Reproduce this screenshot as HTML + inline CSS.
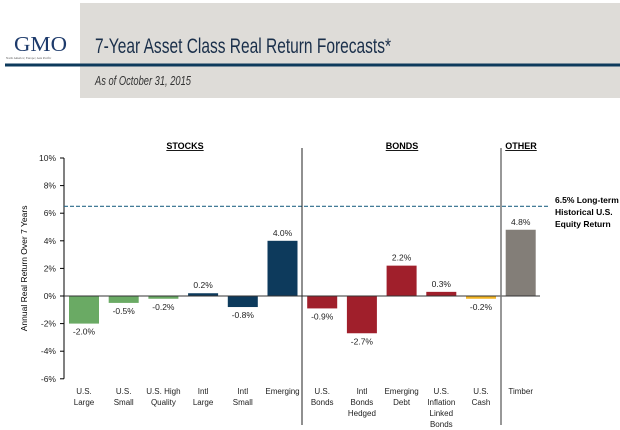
<!DOCTYPE html>
<html><head><meta charset="utf-8"><style>
body{margin:0;width:620px;height:430px;background:#fff;overflow:hidden;font-family:"Liberation Sans",sans-serif}
svg{display:block}
</style></head><body>
<svg width="620" height="430" viewBox="0 0 620 430">
<rect x="80" y="3" width="540" height="95" fill="#dedcd8"/>
<rect x="5" y="63.5" width="615" height="3" fill="#0d3a5c"/>
<text x="14" y="51" font-family="Liberation Serif,serif" font-size="21" fill="#1d3a6b" textLength="53" lengthAdjust="spacingAndGlyphs">GMO</text>
<text x="6" y="59" font-family="Liberation Serif,serif" font-size="3" fill="#555">North America | Europe | Asia Pacific</text>
<text x="95" y="53" font-size="21" fill="#1a2f4a" textLength="296" lengthAdjust="spacingAndGlyphs">7-Year Asset Class Real Return Forecasts*</text>
<text x="95" y="85" font-size="13" font-style="italic" fill="#333" textLength="96" lengthAdjust="spacingAndGlyphs">As of  October 31, 2015</text>
<g id="chart"></g>
</svg>
<script>
const categories=[["U.S.","Large"],["U.S.","Small"],["U.S. High","Quality"],["Intl","Large"],["Intl","Small"],["Emerging"],["U.S.","Bonds"],["Intl","Bonds","Hedged"],["Emerging","Debt"],["U.S.","Inflation","Linked","Bonds"],["U.S.","Cash"],["Timber"]];
const values=[-2.0,-0.5,-0.2,0.2,-0.8,4.0,-0.9,-2.7,2.2,0.3,-0.2,4.8];
const valueLabels=["-2.0%","-0.5%","-0.2%","0.2%","-0.8%","4.0%","-0.9%","-2.7%","2.2%","0.3%","-0.2%","4.8%"];
const colors=["#6aaa64","#6aaa64","#6aaa64","#0d3a5c","#0d3a5c","#0d3a5c","#a01f2b","#a01f2b","#a01f2b","#a01f2b","#f2b424","#837e78"];
const yTicks=[10,8,6,4,2,0,-2,-4,-6];
const benchmark=6.5;
const NS="http://www.w3.org/2000/svg";
const g=document.getElementById('chart');
const y=v=>296-v*13.8;
const x=i=>84+i*39.7;
function mk(t,a,txt){const e=document.createElementNS(NS,t);for(const k in a)e.setAttribute(k,a[k]);if(txt!=null)e.textContent=txt;g.appendChild(e);return e;}
let ax=mk('line',{x1:64,y1:y(10),x2:64,y2:y(-6),stroke:'#000','stroke-width':1});


yTicks.forEach(t=>{
 let tk=mk('line',{x1:60,y1:y(t),x2:64,y2:y(t),stroke:'#000'});
 
 
 let l=mk('text',{x:56,y:y(t)+3,'font-size':8.5,'text-anchor':'end',fill:'#222'},t+'%');
 
 
});
let yt=mk('text',{transform:'translate(27,'+y(2)+') rotate(-90)','font-size':8.5,'text-anchor':'middle',fill:'#000'},'Annual Real Return Over 7 Years');


values.forEach((v,i)=>{
 const cx=x(i);
 let b=mk('rect',{x:cx-15,y:Math.min(y(v),y(0)),width:30,height:Math.abs(y(v)-y(0)),fill:colors[i]});
 
 
 let l=mk('text',{x:cx,y:v>=0?y(v)-5:y(v)+11,'font-size':8.5,'text-anchor':'middle',fill:'#222'},valueLabels[i]);
 
 
 categories[i].forEach((s,j)=>{
  let c=mk('text',{x:cx,y:394+j*11,'font-size':8,'text-anchor':'middle',fill:'#222'},s);
  
  
 });
});
let zl=mk('line',{x1:64,y1:y(0),x2:540,y2:y(0),stroke:'#333','stroke-width':1});


let bl=mk('line',{x1:64,y1:y(benchmark),x2:548,y2:y(benchmark),stroke:'#2a6a8a','stroke-width':1.2,'stroke-dasharray':'4,2'});


[302,501].forEach((sx,k)=>{
 let s=mk('line',{x1:sx,y1:148,x2:sx,y2:425,stroke:k?'#777':'#222','stroke-width':k?1.5:1});
 
 
});
[["STOCKS",185],["BONDS",402],["OTHER",521]].forEach(([t,cx])=>{
 let h=mk('text',{x:cx,y:149,'font-size':9,'font-weight':'bold','text-anchor':'middle',fill:'#000','text-decoration':'underline'},t);
 
 
});
["6.5% Long-term","Historical U.S.","Equity Return"].forEach((t,j)=>{
 let a=mk('text',{x:555,y:203+j*12,'font-size':8.5,'font-weight':'bold',fill:'#000'},t);
 
 
});
</script>
</body></html>
